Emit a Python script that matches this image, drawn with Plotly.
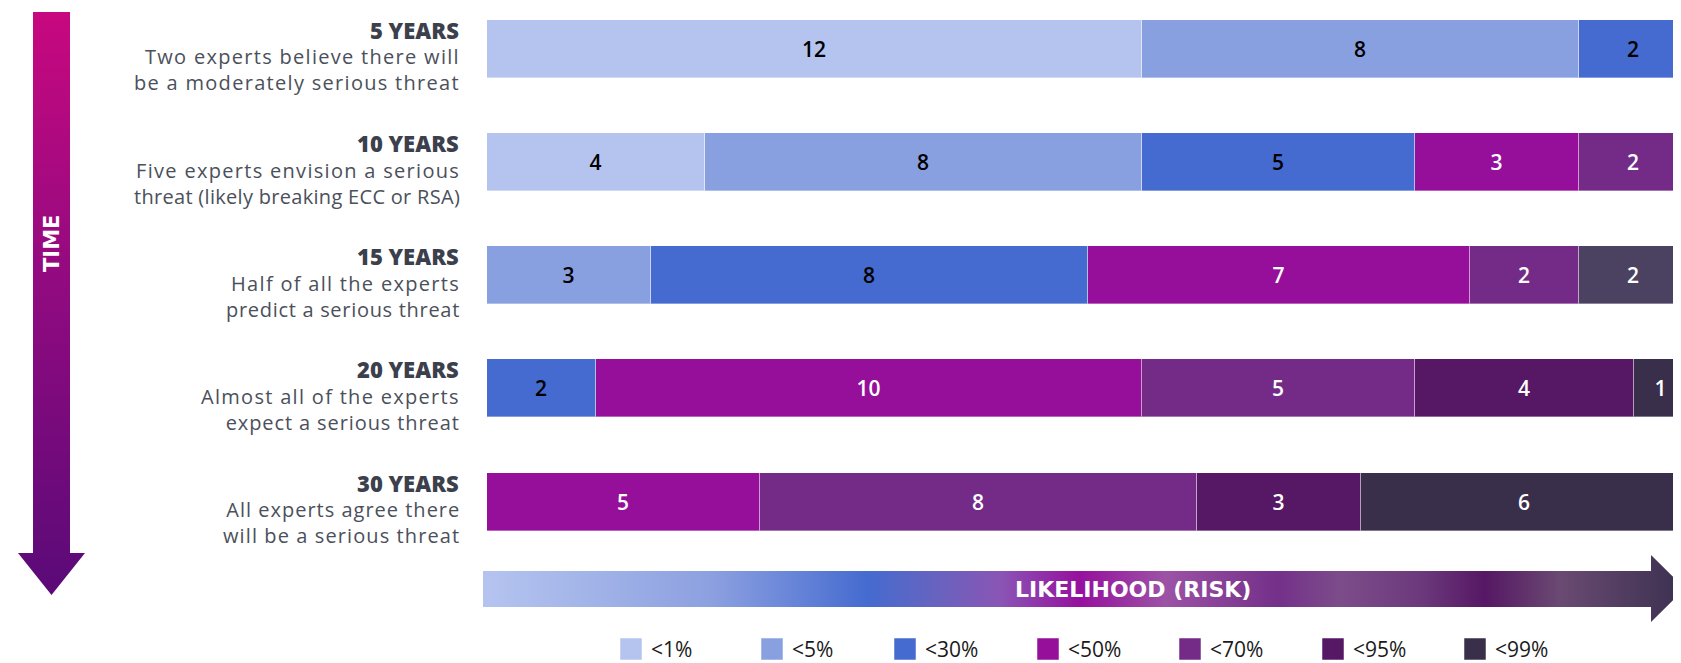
import plotly.graph_objects as go

# ---------------- data ----------------
periods = ["5 YEARS", "10 YEARS", "15 YEARS", "20 YEARS", "30 YEARS"]
desc_line1 = [
    "Two experts believe there will",
    "Five experts envision a serious",
    "Half of all the experts",
    "Almost all of the experts",
    "All experts agree there",
]
desc_line2 = [
    "be a moderately serious threat",
    "threat (likely breaking ECC or RSA)",
    "predict a serious threat",
    "expect a serious threat",
    "will be a serious threat",
]
likelihoods = ["<1%", "<5%", "<30%", "<50%", "<70%", "<95%", "<99%"]

# number of experts per time horizon in each likelihood bucket (None = none)
lt1 = [12, 4, None, None, None]
lt5 = [8, 8, 3, None, None]
lt30 = [2, 5, 8, 2, None]
lt50 = [None, 3, 7, 10, 5]
lt70 = [None, 2, 2, 5, 8]
lt95 = [None, None, None, 4, 3]
lt99 = [None, None, 2, 1, 6]
series = [lt1, lt5, lt30, lt50, lt70, lt95, lt99]

# ---------------- styles / layout constants ----------------
colors = ["#b5c4ef", "#889fe0", "#456bd0", "#960f9b", "#742b87", "#561764", "#3a2f4b"]
text_colors = ["#000000", "#000000", "#000000", "#ffffff", "#ffffff", "#ffffff", "#ffffff"]
point_color_override = {(6, 2): "#4a4260"}

# letter spacing (px) of the two description lines of each row
desc_spacing = [(1.3, 1.3), (1.3, 0.3), (1.3, 0.7), (1.3, 0.9), (1.0, 1.1)]

VW, VH = 1681, 663      # browser viewport
OFF = 8                 # default page body margin
FW, FH = VW - OFF, VH - OFF
BAR_X0 = 487            # screen pixel where value axis starts
PX_PER_UNIT = 54.6
ROW0_Y = 48.8           # screen pixel centre of first row
ROW_PITCH = 113.2
LABEL_RIGHT = 461

BOLD_FONT = "DejaVu Sans"
BODY_FONT = "Open Sans"

fig = go.Figure()

for k, (name, vals) in enumerate(zip(likelihoods, series)):
    mcols = [point_color_override.get((k, i), colors[k]) for i in range(len(periods))]
    fig.add_trace(go.Bar(
        y=periods, x=vals, name=name, orientation="h",
        marker=dict(color=mcols, line=dict(width=1, color="rgba(255,255,255,0.35)")),
        width=0.513,
        text=[("" if v is None else str(v)) for v in vals],
        textposition="inside", insidetextanchor="middle", textangle=0,
        textfont=dict(family=BODY_FONT, size=21, color=text_colors[k], weight=600),
        hoverinfo="skip", showlegend=False,
        xaxis="x", yaxis="y",
    ))

# ---------- decorations on a screen-pixel overlay ----------
# vertical TIME arrow
vx = [33, 70, 70, 85, 51.5, 18, 33, 33]
vy = [12, 12, 553, 553, 595, 553, 553, 12]
fig.add_trace(go.Scatter(
    x=vx, y=vy, mode="lines", fill="toself", line=dict(width=0),
    fillgradient=dict(type="vertical", start=12, stop=595,
                      colorscale=[[0, "#c8087f"], [0.45, "#930a80"], [1, "#5a0a78"]]),
    hoverinfo="skip", showlegend=False, xaxis="x2", yaxis="y2",
))

# horizontal LIKELIHOOD arrow
hx = [483, 1651, 1651, 1685, 1651, 1651, 483, 483]
hy = [571, 571, 555, 588.5, 622, 607, 607, 571]
hstops = [(483, "#b5c4ef"), (713, "#8ca0e0"), (868, "#456bd0"), (930, "#6464c0"),
          (1000, "#8a55b5"), (1080, "#96109e"), (1165, "#9c52a5"), (1277, "#74308a"),
          (1340, "#7c4c8a"), (1420, "#6c3a7c"), (1485, "#561764"), (1560, "#6a4a72"),
          (1685, "#3a3050")]
hcs = [[(p - 483) / (1685 - 483), c] for p, c in hstops]
fig.add_trace(go.Scatter(
    x=hx, y=hy, mode="lines", fill="toself", line=dict(width=0),
    fillgradient=dict(type="horizontal", start=483, stop=1685, colorscale=hcs),
    hoverinfo="skip", showlegend=False, xaxis="x2", yaxis="y2",
))

# legend squares
SQ = 22
LEG_LEFT = [620, 761, 894, 1037, 1179, 1322, 1464]
LEG_Y = 649
leg_x = [x + SQ / 2 for x in LEG_LEFT]
fig.add_trace(go.Scatter(
    x=leg_x, y=[LEG_Y] * len(likelihoods), mode="markers",
    marker=dict(symbol="square", size=SQ, color=colors,
                line=dict(width=1, color="rgba(255,255,255,0.5)")),
    hoverinfo="skip", showlegend=False, xaxis="x2", yaxis="y2",
))

annotations = []
for i, name in enumerate(likelihoods):
    annotations.append(dict(
        x=LEG_LEFT[i] + SQ + 7, y=LEG_Y - 0.5, xref="x2", yref="y2", text=name,
        showarrow=False, xanchor="left", yanchor="middle",
        font=dict(family=BODY_FONT, size=21, color="#1a1a1a"),
    ))

# row labels
for p, l1, l2, (s1, s2) in zip(periods, desc_line1, desc_line2, desc_spacing):
    annotations.append(dict(
        x=LABEL_RIGHT, y=p, xref="x2", yref="y", text=p,
        showarrow=False, xanchor="right", yanchor="middle", yshift=19,
        font=dict(family=BODY_FONT, size=22, color="#3b404c", weight=800),
    ))
    txt = ('<span style="letter-spacing:%.1fpx">%s</span><br>'
           '<span style="letter-spacing:%.1fpx">%s</span>') % (s1, l1, s2, l2)
    annotations.append(dict(
        x=LABEL_RIGHT + 1, y=p, xref="x2", yref="y", text=txt, align="right",
        showarrow=False, xanchor="right", yanchor="middle", yshift=-21,
        font=dict(family=BODY_FONT, size=20, color="#4b505b"),
    ))

annotations.append(dict(
    x=1133, y=589, xref="x2", yref="y2", text="LIKELIHOOD (RISK)",
    showarrow=False, xanchor="center", yanchor="middle",
    font=dict(family=BOLD_FONT, size=22, color="#ffffff", weight="bold"),
))
annotations.append(dict(
    x=52, y=244, xref="x2", yref="y2", text="TIME", textangle=-90,
    showarrow=False, xanchor="center", yanchor="middle",
    font=dict(family=BOLD_FONT, size=21, color="#ffffff", weight="bold"),
))

y_top = (OFF - ROW0_Y) / ROW_PITCH
y_bot = (VH - ROW0_Y) / ROW_PITCH

fig.update_layout(
    width=FW, height=FH, autosize=False,
    margin=dict(l=0, r=0, t=0, b=0, pad=0),
    paper_bgcolor="white", plot_bgcolor="rgba(0,0,0,0)",
    barmode="stack", bargap=0, showlegend=False,
    xaxis=dict(domain=[(BAR_X0 - OFF) / FW, 1], range=[0, (VW - BAR_X0) / PX_PER_UNIT],
               visible=False, fixedrange=True, anchor="y"),
    yaxis=dict(domain=[0, 1], type="category", categoryorder="array", categoryarray=periods,
               range=[y_bot, y_top], visible=False, fixedrange=True, anchor="x"),
    xaxis2=dict(domain=[0, 1], range=[OFF, VW], visible=False, fixedrange=True, anchor="y2"),
    yaxis2=dict(domain=[0, 1], range=[VH, OFF], visible=False, fixedrange=True, anchor="x2"),
    annotations=annotations,
)

fig.write_html("out.html", config={"displayModeBar": False})
